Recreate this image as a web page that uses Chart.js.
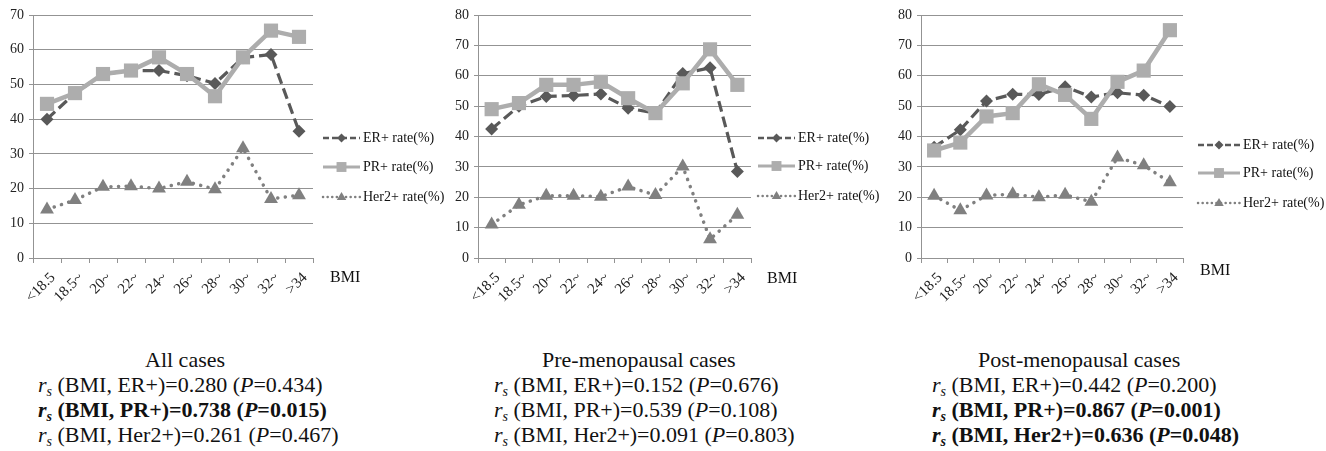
<!DOCTYPE html>
<html><head><meta charset="utf-8">
<script src="https://cdn.jsdelivr.net/npm/chart.js@4/dist/chart.umd.min.js"></script>
<style>
body{margin:0;background:#fff;width:1326px;height:451px;overflow:hidden;position:relative;font-family:"Times New Roman","Liberation Serif",Times,serif;color:#111;}
.cv{position:absolute;top:0;height:310px}
.txt{position:absolute;top:372px;font-size:22px;line-height:25px;white-space:nowrap}
.txt sub{font-size:14px;vertical-align:-4px;line-height:0}
.ttl{position:absolute;top:347px;font-size:22px;line-height:25px;white-space:nowrap}
</style></head><body>
<div class="cv" style="left:0;width:445px"><canvas id="c1"></canvas></div>
<div class="cv" style="left:445px;width:440px"><canvas id="c2"></canvas></div>
<div class="cv" style="left:888px;width:438px"><canvas id="c3"></canvas></div>

<div class="ttl" style="left:145px">All cases</div>
<div class="txt" style="left:38px">
<div><i>r</i><sub><i>s</i></sub> (BMI, ER+)=0.280 (<i>P</i>=0.434)</div>
<div><b><i>r</i><sub><i>s</i></sub> (BMI, PR+)=0.738 (<i>P</i>=0.015)</b></div>
<div><i>r</i><sub><i>s</i></sub> (BMI, Her2+)=0.261 (<i>P</i>=0.467)</div>
</div>
<div class="ttl" style="left:542px">Pre-menopausal cases</div>
<div class="txt" style="left:494px">
<div><i>r</i><sub><i>s</i></sub> (BMI, ER+)=0.152 (<i>P</i>=0.676)</div>
<div><i>r</i><sub><i>s</i></sub> (BMI, PR+)=0.539 (<i>P</i>=0.108)</div>
<div><i>r</i><sub><i>s</i></sub> (BMI, Her2+)=0.091 (<i>P</i>=0.803)</div>
</div>
<div class="ttl" style="left:978px">Post-menopausal cases</div>
<div class="txt" style="left:932px">
<div><i>r</i><sub><i>s</i></sub> (BMI, ER+)=0.442 (<i>P</i>=0.200)</div>
<div><b><i>r</i><sub><i>s</i></sub> (BMI, PR+)=0.867 (<i>P</i>=0.001)</b></div>
<div><b><i>r</i><sub><i>s</i></sub> (BMI, Her2+)=0.636 (<i>P</i>=0.048)</b></div>
</div>

<script>
const categories = ['<18.5','18.5~','20~','22~','24~','26~','28~','30~','32~','>34'];
const seriesNames = ['ER+ rate(%)','PR+ rate(%)','Her2+ rate(%)'];
const xTitle = 'BMI';

const allER   = [40.0, 47.5, 53.0, 54.0, 54.0, 52.5, 50.3, 57.7, 58.6, 36.5];
const allPR   = [44.4, 47.5, 53.0, 54.0, 57.8, 53.0, 46.6, 57.8, 65.5, 63.7];
const allHer2 = [14.0, 16.7, 20.5, 20.7, 20.0, 22.0, 19.8, 31.6, 17.0, 18.1];

const preER   = [42.5, 50.0, 53.2, 53.5, 54.0, 49.3, 47.7, 60.7, 62.6, 28.5];
const prePR   = [49.0, 51.0, 57.0, 57.0, 58.0, 52.6, 47.7, 57.5, 68.7, 57.0];
const preHer2 = [11.0, 17.5, 20.5, 20.5, 20.2, 23.5, 20.7, 30.1, 6.2, 14.2];

const postER   = [36.5, 42.2, 51.7, 53.9, 53.8, 56.4, 53.0, 54.4, 53.6, 49.9];
const postPR   = [35.4, 38.0, 46.6, 47.7, 57.2, 53.7, 45.8, 58.0, 61.7, 75.0];
const postHer2 = [20.5, 15.7, 20.6, 21.0, 20.0, 20.8, 18.5, 33.1, 30.5, 24.9];

const yMaxAll = 70, yMaxPre = 80, yMaxPost = 80, yStep = 10;

const colER = '#595959', colPR = '#adadad', colHer2 = '#808080', gridCol = '#939393';
const FONT = '"Times New Roman", "Liberation Serif", serif';
Chart.defaults.font.family = FONT;

function drawMarker(ctx, style, x, y, r, color){
  ctx.save();
  ctx.fillStyle = color; ctx.setLineDash([]);
  ctx.beginPath();
  if (style === 'rectRot'){ ctx.moveTo(x, y-r); ctx.lineTo(x+r, y); ctx.lineTo(x, y+r); ctx.lineTo(x-r, y); }
  else if (style === 'rect'){ const s = r*0.707; ctx.rect(x-s, y-s, 2*s, 2*s); }
  else { ctx.moveTo(x, y-r*1.0); ctx.lineTo(x+r*0.95, y+r*0.6); ctx.lineTo(x-r*0.95, y+r*0.6); }
  ctx.closePath(); ctx.fill();
  ctx.restore();
}

// legend sample line styles (thinner than the plotted lines, as in the reference)
const legendLine = [
  {w: 2.5, dash: [6,3], cap: 'butt'},
  {w: 3, dash: [], cap: 'butt'},
  {w: 2.5, dash: [0.1,4.5], cap: 'round'}
];

const legendPlugin = {
  id: 'sideLegend',
  afterDraw(chart, args, opts){
    const ctx = chart.ctx;
    ctx.save();
    chart.data.datasets.forEach((ds, i) => {
      const y = opts.ys[i], st = legendLine[i];
      ctx.strokeStyle = ds.borderColor;
      ctx.lineWidth = st.w;
      ctx.lineCap = st.cap;
      ctx.setLineDash(st.dash);
      ctx.beginPath(); ctx.moveTo(opts.x, y); ctx.lineTo(opts.x + opts.len, y); ctx.stroke();
      drawMarker(ctx, ds.pointStyle, opts.x + opts.len/2, y, opts.mr[i], ds.pointBackgroundColor);
      ctx.fillStyle = '#111';
      ctx.font = '14px ' + FONT;
      ctx.textBaseline = 'middle'; ctx.textAlign = 'left';
      ctx.fillText(ds.label, opts.x + opts.len + 3, y);
    });
    ctx.font = '16px ' + FONT;
    ctx.fillStyle = '#111';
    ctx.fillText(xTitle, opts.bx, opts.by);
    ctx.restore();
  }
};

function makeChart(id, er, pr, her2, ymax, padRight, legendOpts){
  const ds = [
    {label: seriesNames[0], data: er, borderColor: colER, backgroundColor: colER, pointBackgroundColor: colER,
     borderWidth: 3.2, borderDash: [11,5], pointStyle: 'rectRot', pointRadius: 6.5, pointBorderWidth: 0, order: 2},
    {label: seriesNames[1], data: pr, borderColor: colPR, backgroundColor: colPR, pointBackgroundColor: colPR,
     borderWidth: 4.5, pointStyle: 'rect', pointRadius: 10, pointBorderWidth: 0, order: 1},
    {label: seriesNames[2], data: her2, borderColor: colHer2, backgroundColor: colHer2, pointBackgroundColor: colHer2,
     borderWidth: 3.5, borderDash: [0.1,7.5], borderCapStyle: 'round', pointStyle: 'triangle', pointRadius: 8, pointBorderWidth: 0, order: 3}
  ];
  return new Chart(document.getElementById(id), {
    type: 'line',
    data: {labels: categories, datasets: ds},
    options: {
      responsive: true, maintainAspectRatio: false, animation: false,
      layout: {padding: {left: 0, right: padRight, top: 15, bottom: 0}},
      plugins: {legend: {display: false}, tooltip: {enabled: false}, sideLegend: legendOpts},
      elements: {line: {tension: 0}},
      scales: {
        x: {
          offset: true,
          grid: {offset: true, drawOnChartArea: false, drawTicks: true, tickLength: 5, color: gridCol},
          border: {color: gridCol, width: 1},
          ticks: {maxRotation: 45, minRotation: 45, autoSkip: false, padding: 6, labelOffset: 6, color: '#222',
                  font: {family: FONT, size: 15}},
          afterFit(s){ s.height = 52; }
        },
        y: {
          min: 0, max: ymax,
          grid: {color: gridCol, lineWidth: 1, tickLength: 4},
          border: {color: gridCol, width: 1},
          ticks: {stepSize: yStep, padding: 5, color: '#222', font: {family: FONT, size: 14}},
          afterFit(s){ s.width = 33; }
        }
      }
    },
    plugins: [legendPlugin]
  });
}

makeChart('c1', allER, allPR, allHer2, yMaxAll, 132,
  {x: 323, len: 37, ys: [138, 167, 197], mr: [4.5, 7, 5], bx: 330, by: 278});
makeChart('c2', preER, prePR, preHer2, yMaxPre, 134,
  {x: 758-445, len: 37, ys: [138, 166, 196], mr: [4.5, 7, 5], bx: 767-445, by: 279});
makeChart('c3', postER, postPR, postHer2, yMaxPost, 143,
  {x: 1198-888, len: 42, ys: [145, 173, 203], mr: [4.5, 7, 5], bx: 1200-888, by: 271});
</script>
</body></html>
